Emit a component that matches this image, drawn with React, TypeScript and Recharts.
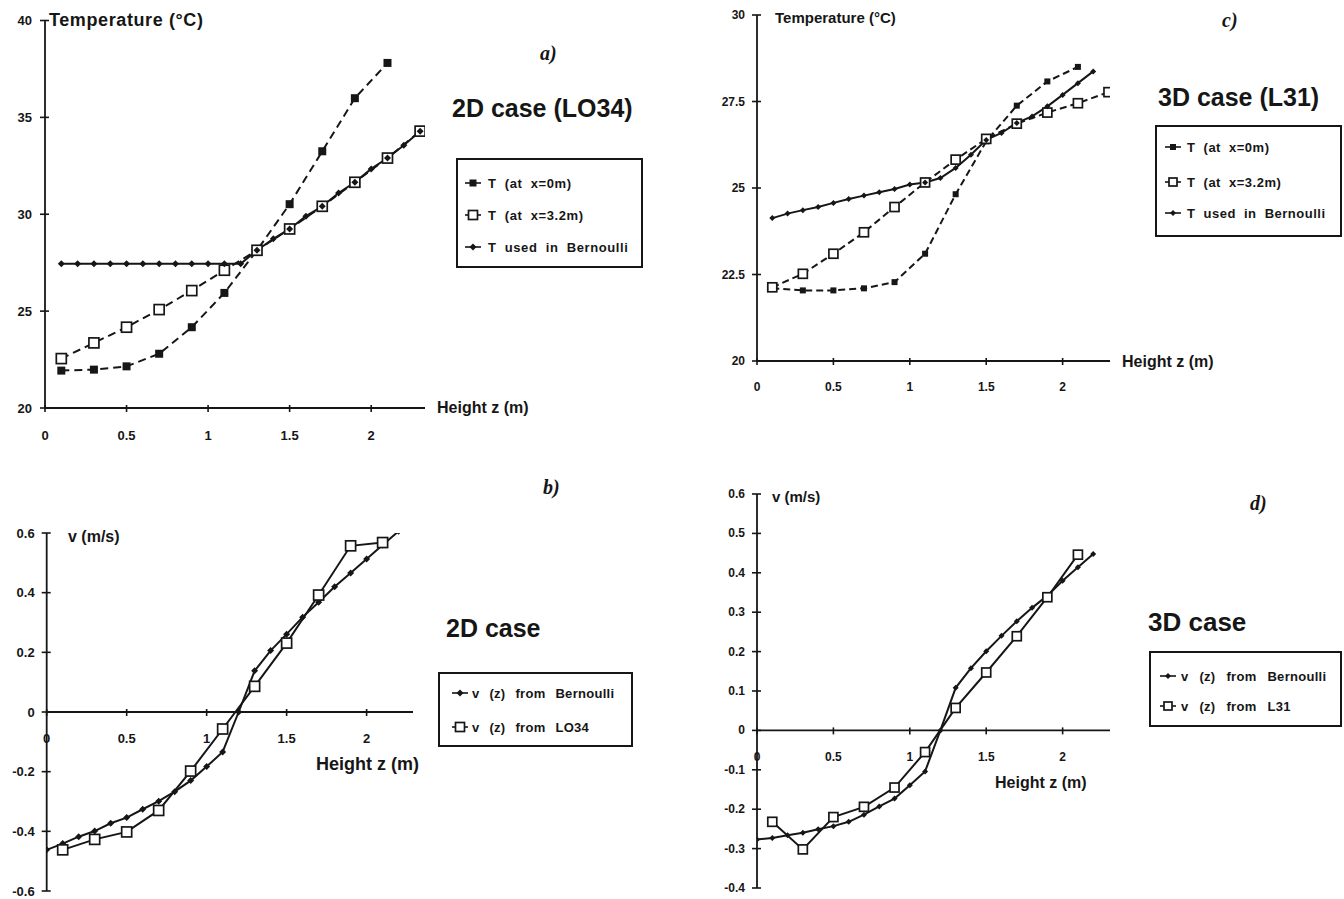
import React from 'react';
import { LineChart, Line, XAxis, YAxis, ReferenceLine } from 'recharts';

const FONT = '"Liberation Sans", Arial, Helvetica, sans-serif';
const INK = '#161616';

// ---------- Panel a) 2D case (LO34), temperature ----------
const aZT0 = [0.1, 0.3, 0.5, 0.7, 0.9, 1.1, 1.3, 1.5, 1.7, 1.9, 2.1];
const aT0 = [21.93, 21.98, 22.15, 22.8, 24.17, 25.94, 28.14, 30.52, 33.25, 35.99, 37.81];
const aZT32 = [0.1, 0.3, 0.5, 0.7, 0.9, 1.1, 1.3, 1.5, 1.7, 1.9, 2.1, 2.3];
const aT32 = [22.55, 23.36, 24.17, 25.08, 26.06, 27.11, 28.14, 29.24, 30.41, 31.65, 32.9, 34.29];
const aZBer = [0.1, 0.2, 0.3, 0.4, 0.5, 0.6, 0.7, 0.8, 0.9, 1.0, 1.1, 1.2, 1.3, 1.4, 1.5, 1.6, 1.7, 1.8, 1.9, 2.0, 2.1, 2.2, 2.3];
const aTBer = [27.45, 27.45, 27.45, 27.45, 27.45, 27.45, 27.45, 27.45, 27.45, 27.45, 27.45, 27.45, 28.14, 28.73, 29.24, 29.9, 30.41, 31.1, 31.65, 32.34, 32.9, 33.56, 34.29];

// ---------- Panel b) 2D case, velocity ----------
const bZBer = [0.0, 0.1, 0.2, 0.3, 0.4, 0.5, 0.6, 0.7, 0.8, 0.9, 1.0, 1.1, 1.2, 1.3, 1.4, 1.5, 1.6, 1.7, 1.8, 1.9, 2.0, 2.1, 2.2];
const bVBer = [-0.462, -0.441, -0.418, -0.399, -0.373, -0.354, -0.326, -0.299, -0.267, -0.23, -0.183, -0.134, 0.0, 0.138, 0.206, 0.261, 0.318, 0.368, 0.42, 0.466, 0.513, 0.56, 0.606];
const bZLO = [0.1, 0.3, 0.5, 0.7, 0.9, 1.1, 1.3, 1.5, 1.7, 1.9, 2.1];
const bVLO = [-0.462, -0.427, -0.402, -0.33, -0.198, -0.057, 0.086, 0.231, 0.392, 0.557, 0.568];

// ---------- Panel c) 3D case (L31), temperature ----------
const cZT0 = [0.1, 0.3, 0.5, 0.7, 0.9, 1.1, 1.3, 1.5, 1.7, 1.9, 2.1];
const cT0 = [22.1, 22.04, 22.04, 22.1, 22.28, 23.1, 24.82, 26.35, 27.38, 28.08, 28.5];
const cZT32 = [0.1, 0.3, 0.5, 0.7, 0.9, 1.1, 1.3, 1.5, 1.7, 1.9, 2.1, 2.3];
const cT32 = [22.13, 22.52, 23.1, 23.72, 24.45, 25.16, 25.82, 26.42, 26.86, 27.18, 27.45, 27.77];
const cZBer = [0.1, 0.2, 0.3, 0.4, 0.5, 0.6, 0.7, 0.8, 0.9, 1.0, 1.1, 1.2, 1.3, 1.4, 1.5, 1.6, 1.7, 1.8, 1.9, 2.0, 2.1, 2.2];
const cTBer = [24.13, 24.26, 24.36, 24.45, 24.57, 24.68, 24.78, 24.88, 24.97, 25.1, 25.16, 25.29, 25.58, 25.96, 26.39, 26.59, 26.88, 27.07, 27.36, 27.69, 28.03, 28.37];

// ---------- Panel d) 3D case, velocity ----------
const dZBer = [0.0, 0.1, 0.2, 0.3, 0.4, 0.5, 0.6, 0.7, 0.8, 0.9, 1.0, 1.1, 1.2, 1.3, 1.4, 1.5, 1.6, 1.7, 1.8, 1.9, 2.0, 2.1, 2.2];
const dVBer = [-0.277, -0.273, -0.266, -0.26, -0.251, -0.243, -0.232, -0.214, -0.193, -0.173, -0.139, -0.104, 0.0, 0.108, 0.158, 0.201, 0.24, 0.277, 0.311, 0.342, 0.38, 0.414, 0.448];
const dZL31 = [0.1, 0.3, 0.5, 0.7, 0.9, 1.1, 1.3, 1.5, 1.7, 1.9, 2.1];
const dVL31 = [-0.232, -0.302, -0.22, -0.194, -0.145, -0.055, 0.057, 0.147, 0.239, 0.338, 0.446];

// ---------- Ticks & labels ----------
const zTicks = [0, 0.5, 1, 1.5, 2];
const aYTicks = [20, 25, 30, 35, 40];
const bYTicks = [-0.6, -0.4, -0.2, 0, 0.2, 0.4, 0.6];
const cYTicks = [20, 22.5, 25, 27.5, 30];
const dYTicks = [-0.4, -0.3, -0.2, -0.1, 0, 0.1, 0.2, 0.3, 0.4, 0.5, 0.6];

const tempLegend = ['T (at x=0m)', 'T (at x=3.2m)', 'T used in Bernoulli'];
const bLegend = ['v (z) from Bernoulli', 'v (z) from LO34'];
const dLegend = ['v (z) from Bernoulli', 'v (z) from L31'];

const zip = (zs: number[], vs: number[]) => zs.map((z, i) => ({ z, v: vs[i] }));

type Kind = 'fsq' | 'osq' | 'dia';

function markerShape(kind: Kind, size: number, cx: number, cy: number, key?: any) {
  const h = size / 2;
  if (kind === 'fsq') {
    return <rect key={key} x={cx - h} y={cy - h} width={size} height={size} fill={INK} />;
  }
  if (kind === 'osq') {
    return (
      <rect key={key} x={cx - h} y={cy - h} width={size} height={size} fill="#fff" stroke={INK} strokeWidth={1.7} />
    );
  }
  return (
    <polygon
      key={key}
      points={`${cx},${cy - h} ${cx + h},${cy} ${cx},${cy + h} ${cx - h},${cy}`}
      fill={INK}
    />
  );
}

const dotRenderer = (kind: Kind, size: number) => (props: any) => {
  const { cx, cy, index } = props;
  if (cx == null || cy == null) return <g key={`n${index}`} />;
  return markerShape(kind, size, cx, cy, `m${index}`);
};

type Series = { name: string; data: { z: number; v: number }[]; kind: Kind; size: number; dash?: string };

type Rect = { left: number; top: number; width: number; height: number };
type Plot = { left: number; top: number; right: number; bottom: number };

function fmt(v: number) {
  return String(v);
}

function Panel(props: {
  box: Rect;
  plot: Plot;
  xMax: number;
  yDomain: [number, number];
  yTicks: number[];
  zeroAxis: boolean;
  series: Series[];
  xLabelGap: number;
  yLabelGap: number;
  fontSize: number;
}) {
  const { box, plot, xMax, yDomain, yTicks, zeroAxis, series, xLabelGap, yLabelGap, fontSize } = props;
  const yAxisW = 40;
  const xAxisH = 30;
  const margin = {
    left: plot.left - box.left - yAxisW,
    top: plot.top - box.top,
    right: box.left + box.width - plot.right,
    bottom: box.top + box.height - plot.bottom - xAxisH,
  };
  const plotH = plot.bottom - plot.top;
  const zeroFrac = (0 - yDomain[0]) / (yDomain[1] - yDomain[0]);

  const XTick = (p: any) => {
    const { x, y, payload } = p;
    const ay = zeroAxis ? y - plotH * zeroFrac : y;
    return (
      <g>
        <line x1={x} x2={x} y1={ay - 3} y2={ay + 4} stroke={INK} strokeWidth={1.6} />
        <text
          x={x}
          y={ay + xLabelGap}
          textAnchor="middle"
          dominantBaseline="central"
          fontFamily={FONT}
          fontWeight="bold"
          fontSize={fontSize}
          fill={INK}
        >
          {fmt(payload.value)}
        </text>
      </g>
    );
  };

  const YTick = (p: any) => {
    const { x, y, payload } = p;
    return (
      <g>
        <line x1={x - 5} x2={x + 4} y1={y} y2={y} stroke={INK} strokeWidth={1.6} />
        <text
          x={x - yLabelGap}
          y={y}
          textAnchor="end"
          dominantBaseline="central"
          fontFamily={FONT}
          fontWeight="bold"
          fontSize={fontSize}
          fill={INK}
        >
          {fmt(payload.value)}
        </text>
      </g>
    );
  };

  return (
    <div style={{ position: 'absolute', left: box.left, top: box.top, width: box.width, height: box.height }}>
      <LineChart width={box.width} height={box.height} margin={margin}>
        <XAxis
          type="number"
          dataKey="z"
          domain={[0, xMax]}
          ticks={zTicks}
          allowDataOverflow
          height={xAxisH}
          tickSize={0}
          tickMargin={0}
          tickLine={false}
          axisLine={zeroAxis ? false : { stroke: INK, strokeWidth: 1.8 }}
          tick={XTick}
          interval={0}
        />
        <YAxis
          type="number"
          domain={yDomain}
          ticks={yTicks}
          allowDataOverflow
          width={yAxisW}
          tickSize={0}
          tickMargin={0}
          tickLine={false}
          axisLine={{ stroke: INK, strokeWidth: 1.8 }}
          tick={YTick}
          interval={0}
        />
        {zeroAxis && <ReferenceLine y={0} stroke={INK} strokeWidth={1.8} />}
        {series.map((s) => (
          <Line
            key={s.name}
            name={s.name}
            data={s.data}
            dataKey="v"
            type="linear"
            stroke={INK}
            strokeWidth={2}
            strokeDasharray={s.dash}
            dot={dotRenderer(s.kind, s.size)}
            activeDot={false}
            isAnimationActive={false}
            legendType="none"
          />
        ))}
      </LineChart>
    </div>
  );
}

function Txt(props: {
  x: number;
  y: number;
  size: number;
  children: React.ReactNode;
  italic?: boolean;
  serif?: boolean;
  weight?: string;
  spacing?: number;
}) {
  return (
    <div
      style={{
        position: 'absolute',
        left: props.x,
        top: props.y,
        transform: 'translateY(-50%)',
        fontFamily: props.serif ? '"Liberation Serif", "Times New Roman", serif' : FONT,
        fontStyle: props.italic ? 'italic' : 'normal',
        fontWeight: props.weight || 'bold',
        fontSize: props.size,
        letterSpacing: props.spacing || 0,
        lineHeight: 1,
        whiteSpace: 'nowrap',
        color: INK,
      }}
    >
      {props.children}
    </div>
  );
}

function LegendBox(props: {
  left: number;
  top: number;
  width: number;
  height: number;
  rows: { label: string; kind: Kind; size: number; y: number }[];
  markerX: number;
  textX: number;
  size: number;
  wordSpacing?: number;
  letterSpacing?: number;
}) {
  const { left, top, width, height, rows, markerX, textX, size, wordSpacing, letterSpacing } = props;
  return (
    <div
      style={{
        position: 'absolute',
        left,
        top,
        width,
        height,
        border: `2px solid ${INK}`,
        boxSizing: 'border-box',
        background: '#fff',
      }}
    >
      {rows.map((r) => (
        <React.Fragment key={r.label}>
          <svg
            width={20}
            height={16}
            style={{ position: 'absolute', left: markerX - 10 - 2, top: r.y - 8 - 2 }}
          >
            <line x1={2} x2={18} y1={8} y2={8} stroke={INK} strokeWidth={1.6} />
            {markerShape(r.kind, r.size, 10, 8)}
          </svg>
          <div
            style={{
              position: 'absolute',
              left: textX - 2,
              top: r.y - 2,
              transform: 'translateY(-50%)',
              fontFamily: FONT,
              fontWeight: 'bold',
              fontSize: size,
              lineHeight: 1,
              whiteSpace: 'nowrap',
              color: INK,
              wordSpacing: wordSpacing || 0,
              letterSpacing: letterSpacing || 0,
            }}
          >
            {r.label}
          </div>
        </React.Fragment>
      ))}
    </div>
  );
}

export default function App() {
  const aSeries: Series[] = [
    { name: tempLegend[0], data: zip(aZT0, aT0), kind: 'fsq', size: 8, dash: '8 5' },
    { name: tempLegend[1], data: zip(aZT32, aT32), kind: 'osq', size: 10, dash: '8 5' },
    { name: tempLegend[2], data: zip(aZBer, aTBer), kind: 'dia', size: 7 },
  ];
  const bSeries: Series[] = [
    { name: bLegend[0], data: zip(bZBer, bVBer), kind: 'dia', size: 7 },
    { name: bLegend[1], data: zip(bZLO, bVLO), kind: 'osq', size: 10 },
  ];
  const cSeries: Series[] = [
    { name: tempLegend[0], data: zip(cZT0, cT0), kind: 'fsq', size: 6, dash: '7 4' },
    { name: tempLegend[1], data: zip(cZT32, cT32), kind: 'osq', size: 9, dash: '7 4' },
    { name: tempLegend[2], data: zip(cZBer, cTBer), kind: 'dia', size: 6 },
  ];
  const dSeries: Series[] = [
    { name: dLegend[0], data: zip(dZBer, dVBer), kind: 'dia', size: 6 },
    { name: dLegend[1], data: zip(dZL31, dVL31), kind: 'osq', size: 9 },
  ];

  return (
    <div
      style={{
        position: 'absolute',
        left: 0,
        top: 0,
        width: 1344,
        height: 899,
        background: '#fff',
        overflow: 'hidden',
        fontFamily: FONT,
      }}
    >
      {/* a) */}
      <Panel
        box={{ left: 0, top: 0, width: 672, height: 460 }}
        plot={{ left: 45, top: 20.5, right: 425, bottom: 408 }}
        xMax={2.33}
        yDomain={[20, 40]}
        yTicks={aYTicks}
        zeroAxis={false}
        series={aSeries}
        xLabelGap={27}
        yLabelGap={13}
        fontSize={13}
      />
      <Txt x={49} y={20} size={18} spacing={0.6}>Temperature (°C)</Txt>
      <Txt x={437} y={408} size={16}>Height z (m)</Txt>
      <Txt x={540} y={53} size={20} italic serif>a)</Txt>
      <Txt x={452} y={108} size={25}>2D case (LO34)</Txt>
      <LegendBox
        left={456}
        top={158}
        width={187}
        height={110}
        markerX={17}
        textX={32}
        size={13}
        wordSpacing={4}
        letterSpacing={0.6}
        rows={[
          { label: tempLegend[0], kind: 'fsq', size: 7, y: 25 },
          { label: tempLegend[1], kind: 'osq', size: 9, y: 57 },
          { label: tempLegend[2], kind: 'dia', size: 7, y: 89 },
        ]}
      />

      {/* b) */}
      <Panel
        box={{ left: 0, top: 470, width: 672, height: 460 }}
        plot={{ left: 46.7, top: 533, right: 413, bottom: 891 }}
        xMax={2.29}
        yDomain={[-0.6, 0.6]}
        yTicks={bYTicks}
        zeroAxis={true}
        series={bSeries}
        xLabelGap={26}
        yLabelGap={12}
        fontSize={13}
      />
      <Txt x={68} y={537} size={16}>v (m/s)</Txt>
      <Txt x={316} y={764} size={18}>Height z (m)</Txt>
      <Txt x={543} y={487} size={20} italic serif>b)</Txt>
      <Txt x={446} y={628} size={25}>2D case</Txt>
      <LegendBox
        left={438}
        top={672}
        width={195}
        height={75}
        markerX={22}
        textX={34}
        size={13}
        wordSpacing={6}
        letterSpacing={0.3}
        rows={[
          { label: bLegend[0], kind: 'dia', size: 7, y: 21 },
          { label: bLegend[1], kind: 'osq', size: 9, y: 55 },
        ]}
      />

      {/* c) */}
      <Panel
        box={{ left: 680, top: 0, width: 664, height: 460 }}
        plot={{ left: 757, top: 15, right: 1110, bottom: 361 }}
        xMax={2.31}
        yDomain={[20, 30]}
        yTicks={cYTicks}
        zeroAxis={false}
        series={cSeries}
        xLabelGap={26}
        yLabelGap={12}
        fontSize={12}
      />
      <Txt x={775} y={17} size={15}>Temperature (°C)</Txt>
      <Txt x={1122} y={362} size={16}>Height z (m)</Txt>
      <Txt x={1222} y={20} size={20} italic serif>c)</Txt>
      <Txt x={1158} y={97} size={25}>3D case (L31)</Txt>
      <LegendBox
        left={1155}
        top={125}
        width={187}
        height={112}
        markerX={18}
        textX={32}
        size={13}
        wordSpacing={4}
        letterSpacing={0.5}
        rows={[
          { label: tempLegend[0], kind: 'fsq', size: 6, y: 22 },
          { label: tempLegend[1], kind: 'osq', size: 8, y: 57 },
          { label: tempLegend[2], kind: 'dia', size: 6, y: 88 },
        ]}
      />

      {/* d) */}
      <Panel
        box={{ left: 680, top: 470, width: 664, height: 460 }}
        plot={{ left: 757, top: 494, right: 1110, bottom: 888 }}
        xMax={2.31}
        yDomain={[-0.4, 0.6]}
        yTicks={dYTicks}
        zeroAxis={true}
        series={dSeries}
        xLabelGap={27}
        yLabelGap={12}
        fontSize={12}
      />
      <Txt x={772} y={496} size={15}>v (m/s)</Txt>
      <Txt x={995} y={783} size={16}>Height z (m)</Txt>
      <Txt x={1250} y={503} size={20} italic serif>d)</Txt>
      <Txt x={1148} y={622} size={26}>3D case</Txt>
      <LegendBox
        left={1149}
        top={651}
        width={193}
        height={76}
        markerX={19}
        textX={32}
        size={13}
        wordSpacing={7}
        letterSpacing={0.3}
        rows={[
          { label: dLegend[0], kind: 'dia', size: 6, y: 25 },
          { label: dLegend[1], kind: 'osq', size: 8, y: 55 },
        ]}
      />
    </div>
  );
}
